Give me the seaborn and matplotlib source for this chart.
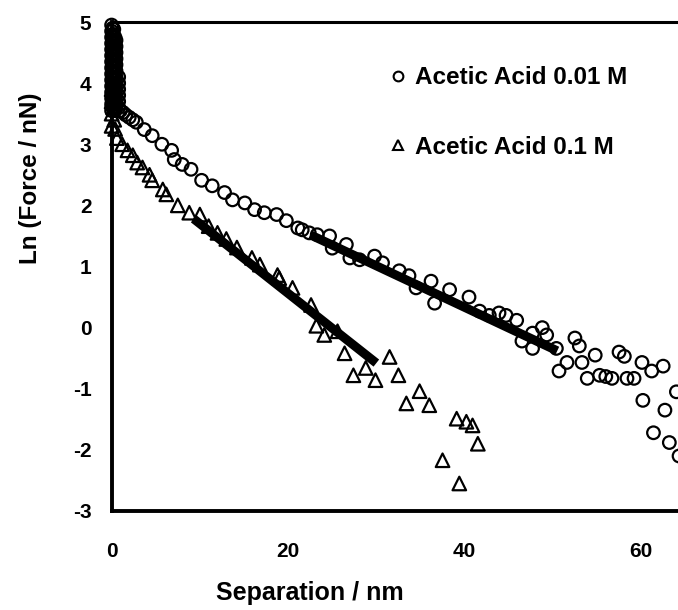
import matplotlib
matplotlib.use("Agg")
import matplotlib.pyplot as plt
from matplotlib.lines import Line2D
import seaborn as sns

# ---- data: Acetic Acid 0.01 M (open circles) ----
# dense cluster at contact (x ~ 0)
x_001_contact = [0.0] * 15 + [0.12] * 14 + [0.25] * 14 + [0.38] * 13 + [0.5] * 12 + [0.8] * 6
y_001_contact = [4.95, 4.85, 4.75, 4.65, 4.55, 4.45, 4.35, 4.25, 4.15, 4.05, 3.95, 3.85, 3.75, 3.65, 3.55,
                 4.9, 4.8, 4.7, 4.6, 4.5, 4.4, 4.3, 4.2, 4.1, 4.0, 3.9, 3.8, 3.7, 3.6,
                 4.88, 4.78, 4.68, 4.58, 4.48, 4.38, 4.28, 4.18, 4.08, 3.98, 3.88, 3.78, 3.68, 3.58,
                 4.75, 4.65, 4.55, 4.45, 4.35, 4.25, 4.15, 4.05, 3.95, 3.85, 3.75, 3.65, 3.55,
                 4.7, 4.6, 4.5, 4.4, 4.3, 4.2, 4.1, 4.0, 3.9, 3.8, 3.7, 3.6,
                 4.1, 4.0, 3.9, 3.8, 3.7, 3.6]
x_001 = [1.0, 1.3, 1.6, 2.0, 2.4,
         2.8, 3.7, 4.6, 5.7, 6.8, 7.1, 8.0, 9.0, 10.2, 11.4, 12.8, 13.7, 15.1, 16.2,
         17.3, 18.7, 19.8, 21.1, 21.6, 22.4, 23.3, 24.7, 25.0, 26.6, 27.0, 28.1, 29.8,
         30.7, 32.6, 33.7, 34.5, 36.2, 36.6, 38.3, 40.5, 41.7, 42.8, 43.9, 44.7, 45.9,
         46.5, 47.7, 48.8, 49.3, 47.7, 50.4, 50.7, 51.6, 52.5, 53.0, 53.3, 53.9, 54.8,
         55.3, 56.0, 56.7, 57.5, 58.1, 58.4, 59.2, 60.1, 60.2, 61.2, 61.4, 62.5, 62.7,
         63.2, 64.0, 64.3]
y_001 = [3.55, 3.52, 3.48, 3.44, 3.4,
         3.36, 3.24, 3.14, 3.0, 2.9, 2.75, 2.67, 2.59, 2.41, 2.32, 2.21, 2.09, 2.04, 1.93,
         1.88, 1.85, 1.75, 1.63, 1.6, 1.55, 1.52, 1.5, 1.3, 1.36, 1.14, 1.11, 1.17,
         1.06, 0.93, 0.85, 0.65, 0.76, 0.4, 0.62, 0.5, 0.27, 0.2, 0.24, 0.2, 0.12,
         -0.22, -0.09, 0.0, -0.12, -0.34, -0.34, -0.71, -0.57, -0.17, -0.3, -0.57, -0.83, -0.45,
         -0.78, -0.8, -0.83, -0.4, -0.47, -0.83, -0.83, -0.57, -1.19, -0.71, -1.72, -0.63, -1.35,
         -1.88, -1.05, -2.1]

# ---- data: Acetic Acid 0.1 M (open triangles) ----
x_01 = [0.0, 0.0, 0.0, 0.0, 0.1, 0.2, 0.3, 0.4, 0.6, 1.2, 1.8, 2.4, 2.9, 3.5, 4.3, 4.6,
        5.8, 6.2, 7.5, 8.8, 10.0, 11.0, 12.0, 13.0, 14.2, 15.9, 16.8, 18.8, 19.0, 20.5,
        22.6, 23.2, 24.1, 25.6, 26.4, 27.4, 28.8, 29.9, 31.5, 32.5, 33.4, 34.9, 36.0,
        37.5, 39.1, 39.4, 40.2, 40.9, 41.5]
y_01 = [3.9, 3.7, 3.5, 3.3, 3.8, 3.6, 3.4, 3.25, 3.1, 3.0, 2.9, 2.82, 2.7, 2.62, 2.5, 2.41,
        2.26, 2.18, 2.0, 1.88, 1.85, 1.66, 1.55, 1.45, 1.31, 1.14, 1.03, 0.86, 0.81, 0.65,
        0.37, 0.03, -0.12, -0.06, -0.42, -0.78, -0.66, -0.86, -0.48, -0.78, -1.24, -1.04, -1.27,
        -2.17, -1.49, -2.55, -1.54, -1.6, -1.9]

# ---- linear fits (drawn as dense filled squares in the original) ----
fit_x_001 = [22.5, 50.5]
fit_y_001 = [1.52, -0.38]
fit_x_01 = [9.3, 30.0]
fit_y_01 = [1.78, -0.58]

labels = ["Acetic Acid 0.01 M", "Acetic Acid 0.1 M"]
x_ticks = [0, 20, 40, 60]
y_ticks = [-3, -2, -1, 0, 1, 2, 3, 4, 5]

sns.set_theme(style="white")
plt.rcParams["font.family"] = ["Liberation Sans", "DejaVu Sans"]
plt.rcParams["font.weight"] = "bold"
plt.rcParams["text.color"] = "black"
plt.rcParams["axes.labelcolor"] = "black"
plt.rcParams["xtick.color"] = "black"
plt.rcParams["ytick.color"] = "black"

fig = plt.figure(figsize=(6.78, 6.10), dpi=100)
ax = fig.add_axes([111.6 / 678, 1 - 511 / 610, (678 - 111.6) / 678, (511 - 22) / 610])

sns.lineplot(x=fit_x_001, y=fit_y_001, ax=ax, color="black", linewidth=6.5,
             solid_capstyle="butt", zorder=3)
sns.lineplot(x=fit_x_01, y=fit_y_01, ax=ax, color="black", linewidth=6.5,
             solid_capstyle="butt", zorder=3)

sns.scatterplot(x=x_001_contact + x_001, y=y_001_contact + y_001, ax=ax, marker="o", s=82,
                facecolors="none", edgecolors="black", linewidth=1.6, clip_on=False, zorder=4)
sns.scatterplot(x=x_01, y=y_01, ax=ax, marker="^", s=95, facecolors="none",
                edgecolors="black", linewidth=1.6, clip_on=False, zorder=4)

ax.set_xlim(0, (678 - 111.6) / 8.825)
ax.set_ylim(-3, 5)
ax.set_xticks(x_ticks)
ax.set_yticks(y_ticks)
ax.set_xticklabels([str(t) for t in x_ticks], fontsize=15, fontweight="bold")
ax.set_yticklabels([str(t) for t in y_ticks], fontsize=15, fontweight="bold")
ax.tick_params(axis="both", direction="in", length=6, width=2, colors="black")
ax.tick_params(axis="x", pad=22)
ax.tick_params(axis="y", pad=14.5)

for side in ["left", "bottom"]:
    ax.spines[side].set_linewidth(2.8)
    ax.spines[side].set_color("black")
ax.spines["top"].set_linewidth(2.2)
ax.spines["top"].set_color("black")
ax.spines["right"].set_visible(False)

ax.set_xlabel("Separation / nm", fontsize=18, fontweight="bold")
ax.set_ylabel("Ln (Force / nN)", fontsize=17.5, fontweight="bold")
ax.xaxis.set_label_coords(0.35, -0.143)
ax.yaxis.set_label_coords(-0.123, 0.68)

handles = [
    Line2D([], [], linestyle="none", marker="o", markersize=7, markerfacecolor="none",
           markeredgecolor="black", markeredgewidth=1.5),
    Line2D([], [], linestyle="none", marker="^", markersize=7, markerfacecolor="none",
           markeredgecolor="black", markeredgewidth=1.5),
]
leg = ax.legend(handles, labels, loc="upper left", bbox_to_anchor=(0.493, 0.909),
                frameon=False, handlelength=0.6, handletextpad=0.4, borderpad=0,
                borderaxespad=0, labelspacing=1.9,
                prop={"family": "Liberation Sans", "weight": "bold", "size": 17.5})

fig.savefig("out.png", dpi=100)
